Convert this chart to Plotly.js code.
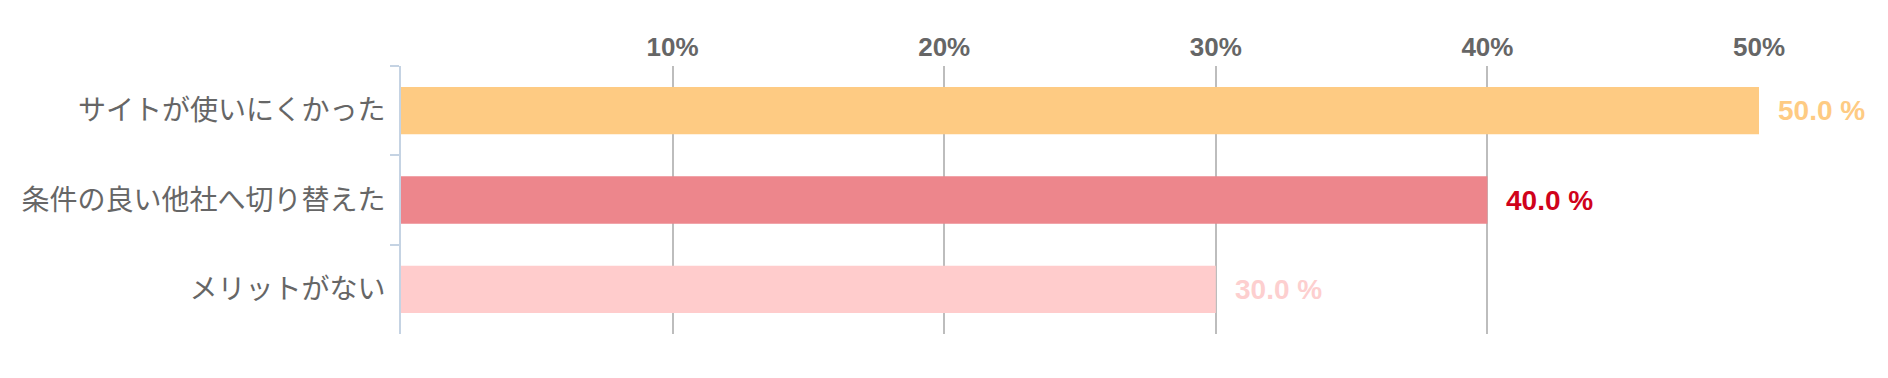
<!DOCTYPE html>
<html>
<head>
<meta charset="utf-8">
<script src="https://cdn.plot.ly/plotly-3.0.1.min.js"></script>
<style>html,body{margin:0;padding:0;background:#fff;}#chart{width:1888px;height:378px;}</style>
</head>
<body>
<div id="chart"></div>
<script>
var categories = ["サイトが使いにくかった", "条件の良い他社へ切り替えた", "メリットがない"];
var values = [50.0, 40.0, 30.0];
var barColors = ["#fecb83", "#ed868c", "#ffcccc"];
var labelColors = ["#fecb83", "#d0021b", "#fdcfcf"];
var tickValues = [10, 20, 30, 40, 50];
var tickLabels = ["10%", "20%", "30%", "40%", "50%"];

var trace = {
  type: "bar",
  orientation: "h",
  x: values,
  y: categories,
  width: 0.53,
  marker: {color: barColors},
  hoverinfo: "none"
};

var annotations = values.map(function (v, i) {
  return {
    x: v, y: categories[i], xref: "x", yref: "y",
    text: v.toFixed(1) + " %",
    showarrow: false, xanchor: "left", yanchor: "middle", xshift: 17,
    font: {family: "Liberation Sans, Arial, sans-serif", size: 28, weight: "bold", color: labelColors[i]}
  };
});

var layout = {
  width: 1888, height: 378,
  margin: {l: 401, r: 129, t: 66, b: 44, pad: 0},
  paper_bgcolor: "#ffffff", plot_bgcolor: "#ffffff",
  showlegend: false,
  xaxis: {
    side: "top",
    range: [0, 50],
    tickvals: tickValues,
    ticktext: tickLabels,
    showgrid: true, gridcolor: "#bdbdbd", gridwidth: 2,
    zeroline: false, showline: false, ticks: "",
    ticklabelstandoff: 4,
    tickfont: {family: "Liberation Sans, Arial, sans-serif", size: 26, weight: "bold", color: "#666666"},
    fixedrange: true
  },
  yaxis: {
    type: "category",
    autorange: "reversed",
    showgrid: false, zeroline: false,
    showline: true, linecolor: "#c5d3e3", linewidth: 2,
    ticks: "outside", tickson: "boundaries", ticklen: 9, tickwidth: 2, tickcolor: "#c5d3e3",
    ticklabelstandoff: 8,
    tickfont: {family: "Noto Sans CJK JP, sans-serif", size: 28, color: "#666666"},
    fixedrange: true
  },
  annotations: annotations,
  bargap: 0.47
};

Plotly.newPlot("chart", [trace], layout, {displayModeBar: false, staticPlot: true});
</script>
</body>
</html>
